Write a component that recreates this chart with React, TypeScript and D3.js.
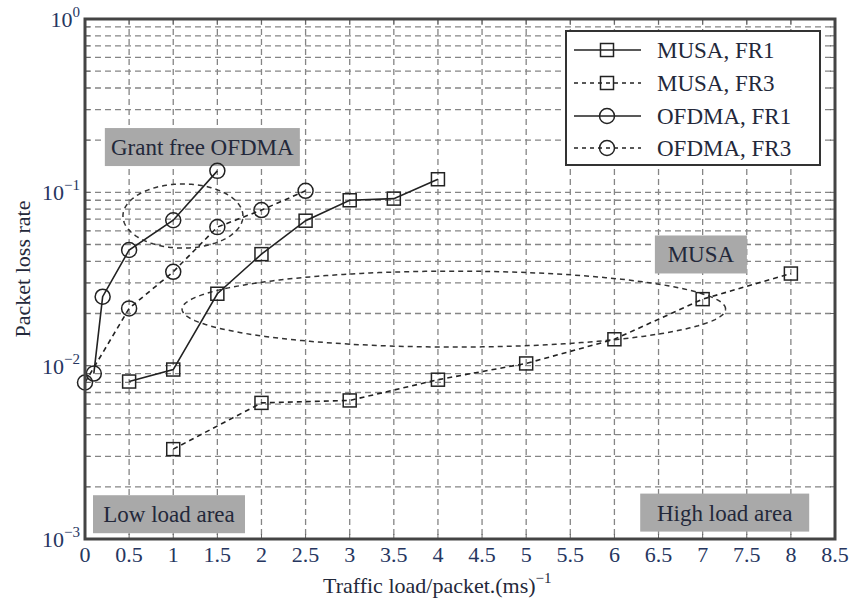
import React from 'react';
import * as d3 from 'd3';

const W = 852;
const H = 605;

// ---- data ----
const xTickValues = [0, 0.5, 1, 1.5, 2, 2.5, 3, 3.5, 4, 4.5, 5, 5.5, 6, 6.5, 7, 7.5, 8, 8.5];
const xTickLabels = ['0', '0.5', '1', '1.5', '2', '2.5', '3', '3.5', '4', '4.5', '5', '5.5', '6', '6.5', '7', '7.5', '8', '8.5'];
const yDecades = [-3, -2, -1, 0];
const yTickExponents = ['−3', '−2', '−1', '0'];

const musaFR1X = [0.5, 1, 1.5, 2, 2.5, 3, 3.5, 4];
const musaFR1Y = [0.0081, 0.0095, 0.026, 0.044, 0.0686, 0.09, 0.092, 0.119];
const musaFR3X = [1, 2, 3, 4, 5, 6, 7, 8];
const musaFR3Y = [0.0033, 0.0061, 0.0063, 0.0083, 0.0103, 0.0142, 0.0242, 0.034];
const ofdmaFR1X = [0.1, 0.2, 0.5, 1, 1.5];
const ofdmaFR1Y = [0.009, 0.025, 0.0465, 0.069, 0.133];
const ofdmaFR3X = [0, 0.5, 1, 1.5, 2, 2.5];
const ofdmaFR3Y = [0.008, 0.0214, 0.0348, 0.063, 0.079, 0.102];

const seriesNames = ['MUSA, FR1', 'MUSA, FR3', 'OFDMA, FR1', 'OFDMA, FR3'];

// annotation ellipses (center x, center y, half-width in x units, half-height in decades)
const ellipseCX = [1.11, 4.18];
const ellipseCY = [0.073, 0.0212];
const ellipseRX = [0.68, 3.08];
const ellipseRDec = [0.185, 0.219];

// annotation labels (centers in data space)
const noteTexts = ['Grant free OFDMA', 'MUSA', 'Low load area', 'High load area'];
const noteX = [1.33, 6.98, 0.952, 7.25];
const noteY = [0.1825, 0.0438, 0.00139, 0.00142];
const noteW = [195, 92, 152, 169];

// ---- layout ----
const L = 85, R = 835, T = 19, B = 539;
const x = d3.scaleLinear().domain([0, 8.5]).range([L, R]);
const y = d3.scaleLog().domain([1e-3, 1]).range([B, T]);

const FONT = '"Liberation Serif", "Times New Roman", serif';
const TEXT = '#23283a';
const TICKTXT = '#26365f';
const GRID = '#858585';

type Series = { name: string; xs: number[]; ys: number[]; dashed: boolean; marker: 'square' | 'circle' };
const series: Series[] = [
  { name: seriesNames[0], xs: musaFR1X, ys: musaFR1Y, dashed: false, marker: 'square' },
  { name: seriesNames[1], xs: musaFR3X, ys: musaFR3Y, dashed: true, marker: 'square' },
  { name: seriesNames[2], xs: ofdmaFR1X, ys: ofdmaFR1Y, dashed: false, marker: 'circle' },
  { name: seriesNames[3], xs: ofdmaFR3X, ys: ofdmaFR3Y, dashed: true, marker: 'circle' },
];

function Marker({ kind, cx, cy }: { kind: string; cx: number; cy: number }) {
  if (kind === 'square') {
    return <rect x={cx - 6.5} y={cy - 6.5} width={13} height={13} fill="none" stroke="#222" strokeWidth={1.5} />;
  }
  return <circle cx={cx} cy={cy} r={7.5} fill="none" stroke="#222" strokeWidth={1.5} />;
}

export default function App() {
  const minorY: number[] = [];
  for (let d = -3; d < 0; d++) {
    for (let k = 1; k <= 9; k++) {
      const v = k * Math.pow(10, d);
      if (v > 1e-3) minorY.push(v);
    }
  }
  const line = d3
    .line<[number, number]>()
    .x((d) => x(d[0]))
    .y((d) => y(d[1]));

  const ellipsePaths = ellipseCX.map((cx, i) => {
    const pts: [number, number][] = d3.range(0, 181).map((j) => {
      const t = (j / 180) * Math.PI * 2;
      const xv = cx + ellipseRX[i] * Math.cos(t);
      const yv = Math.pow(10, Math.log10(ellipseCY[i]) + ellipseRDec[i] * Math.sin(t));
      return [xv, yv];
    });
    return line(pts) as string;
  });

  const legX0 = 566, legY0 = 31, legW = 254, legH = 134;
  const legRows = [50, 83, 116, 148];

  return (
    <svg width={W} height={H} style={{ position: 'absolute', left: 0, top: 0, background: '#fff' }} fontFamily={FONT}>
      <rect x={0} y={0} width={W} height={H} fill="#fff" />
      {/* grid */}
      <g stroke={GRID} strokeWidth={1.3} strokeDasharray="6,4">
        {xTickValues.slice(1, -1).map((v) => (
          <line key={'gx' + v} x1={x(v)} x2={x(v)} y1={T} y2={B} />
        ))}
        {minorY.map((v) => (
          <line key={'gy' + v} x1={L} x2={R} y1={y(v)} y2={y(v)} />
        ))}
      </g>
      {/* small ticks on frame */}
      <g stroke="#666" strokeWidth={1}>
        {xTickValues.map((v) => (
          <g key={'tx' + v}>
            <line x1={x(v)} x2={x(v)} y1={B} y2={B - 5} />
            <line x1={x(v)} x2={x(v)} y1={T} y2={T + 5} />
          </g>
        ))}
        {minorY.map((v) => (
          <g key={'ty' + v}>
            <line x1={L} x2={L + 5} y1={y(v)} y2={y(v)} />
            <line x1={R} x2={R - 5} y1={y(v)} y2={y(v)} />
          </g>
        ))}
      </g>

      {/* annotation labels */}
      {noteTexts.map((t, i) => (
        <g key={t}>
          <rect x={x(noteX[i]) - noteW[i] / 2} y={y(noteY[i]) - 19} width={noteW[i]} height={38} fill="#a9a9a9" />
          <text x={x(noteX[i])} y={y(noteY[i]) + 8} textAnchor="middle" fontSize={23} fill={TEXT}>
            {t}
          </text>
        </g>
      ))}

      {/* ellipses */}
      {ellipsePaths.map((p, i) => (
        <path key={'el' + i} d={p} fill="none" stroke="#333" strokeWidth={1.5} strokeDasharray="5,4" />
      ))}

      {/* series */}
      {series.map((s) => {
        const pts: [number, number][] = s.xs.map((v, i) => [v, s.ys[i]]);
        return (
          <g key={s.name}>
            <path d={line(pts) as string} fill="none" stroke="#222" strokeWidth={1.6} strokeDasharray={s.dashed ? '5,4' : undefined} />
            {pts.map((p, i) => (
              <Marker key={i} kind={s.marker} cx={x(p[0])} cy={y(p[1])} />
            ))}
          </g>
        );
      })}

      {/* legend */}
      <rect x={legX0} y={legY0} width={legW} height={legH} fill="#fff" stroke="#333" strokeWidth={2} />
      {series.map((s, i) => (
        <g key={'leg' + s.name}>
          <line x1={574} x2={641} y1={legRows[i]} y2={legRows[i]} stroke="#222" strokeWidth={1.6} strokeDasharray={s.dashed ? '4,4' : undefined} />
          <Marker kind={s.marker} cx={607} cy={legRows[i]} />
          <text x={657} y={legRows[i] + 8} fontSize={23} fill={TEXT}>
            {s.name}
          </text>
        </g>
      ))}

      {/* frame */}
      <rect x={L} y={T} width={R - L} height={B - T} fill="none" stroke="#444" strokeWidth={3} />

      {/* x tick labels */}
      {xTickValues.map((v, i) => (
        <text key={'xl' + v} x={x(v)} y={562} textAnchor="middle" fontSize={22} fill={TICKTXT}>
          {xTickLabels[i]}
        </text>
      ))}
      {/* y tick labels */}
      {yDecades.map((d, i) => (
        <text key={'yl' + d} x={80} y={y(Math.pow(10, d)) + 8} textAnchor="end" fontSize={22} fill={TICKTXT}>
          10
          <tspan dy={-10} fontSize={15}>
            {yTickExponents[i]}
          </tspan>
        </text>
      ))}

      {/* axis titles */}
      <text transform="translate(30, 269) rotate(-90)" textAnchor="middle" fontSize={22} fill={TEXT}>
        Packet loss rate
      </text>
      <text x={323} y={593} fontSize={22} fill={TEXT}>
        Traffic load/packet.(ms)
        <tspan dy={-10} fontSize={15}>
          −1
        </tspan>
      </text>
    </svg>
  );
}
